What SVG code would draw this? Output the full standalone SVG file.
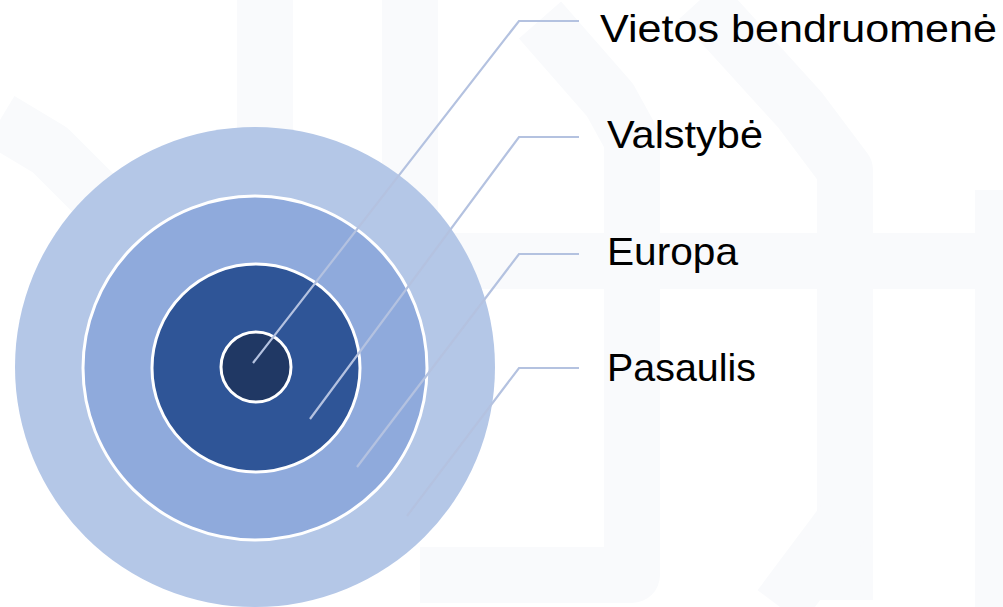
<svg xmlns="http://www.w3.org/2000/svg" width="1003" height="607" viewBox="0 0 1003 607">
  <style>
    .wm { fill: none; stroke: #F9FAFC; stroke-width: 56; stroke-linejoin: round; }
    .ring { stroke: #FFFFFF; stroke-width: 3; }
    .leader { fill: none; stroke: #B4C2E0; stroke-width: 2.2; }
    .label { font-family: "Liberation Sans", "Open Sans", sans-serif; font-size: 39px; fill: #000000; }
  </style>
  <rect width="1003" height="607" fill="#FFFFFF"/>
  <g id="watermark">
    <path class="wm" d="M265 0 V230"/>
    <path class="wm" d="M410 0 V300"/>
    <path class="wm" d="M0 120 L50 150 L130 230"/>
    <path class="wm" d="M540 20 L610 100 L632 140 V575 H420"/>
    <path class="wm" d="M700 0 L800 110 L845 170 V600"/>
    <path class="wm" d="M440 261 H1003"/>
    <path class="wm" d="M845 520 L780 607"/>
    <path class="wm" d="M1003 190 V607"/>
  </g>
  <g id="rings">
    <g id="node-pasaulis"><circle cx="255" cy="367" r="240" fill="#B4C7E7"/></g>
    <g id="node-europa"><circle class="ring" cx="255" cy="368" r="172" fill="#8FAADC"/></g>
    <g id="node-valstybe"><circle class="ring" cx="256" cy="368" r="104" fill="#2F5597"/></g>
    <g id="node-vietos"><circle class="ring" cx="256" cy="367" r="35" fill="#203864"/></g>
  </g>
  <g id="connectors">
    <polyline class="leader" points="253,363 519,21 579,21"/>
    <polyline class="leader" points="310,419 519,137 579,137"/>
    <polyline class="leader" points="357,467 519,254 579,254"/>
    <polyline class="leader" points="407,516 519,368 579,368"/>
  </g>
  <g id="labels">
    <text class="label" x="600" y="42" textLength="397" lengthAdjust="spacingAndGlyphs">Vietos bendruomenė</text>
    <text class="label" x="607" y="148" textLength="156" lengthAdjust="spacingAndGlyphs">Valstybė</text>
    <text class="label" x="607" y="265" textLength="131" lengthAdjust="spacingAndGlyphs">Europa</text>
    <text class="label" x="607" y="381" textLength="149" lengthAdjust="spacingAndGlyphs">Pasaulis</text>
  </g>
</svg>
